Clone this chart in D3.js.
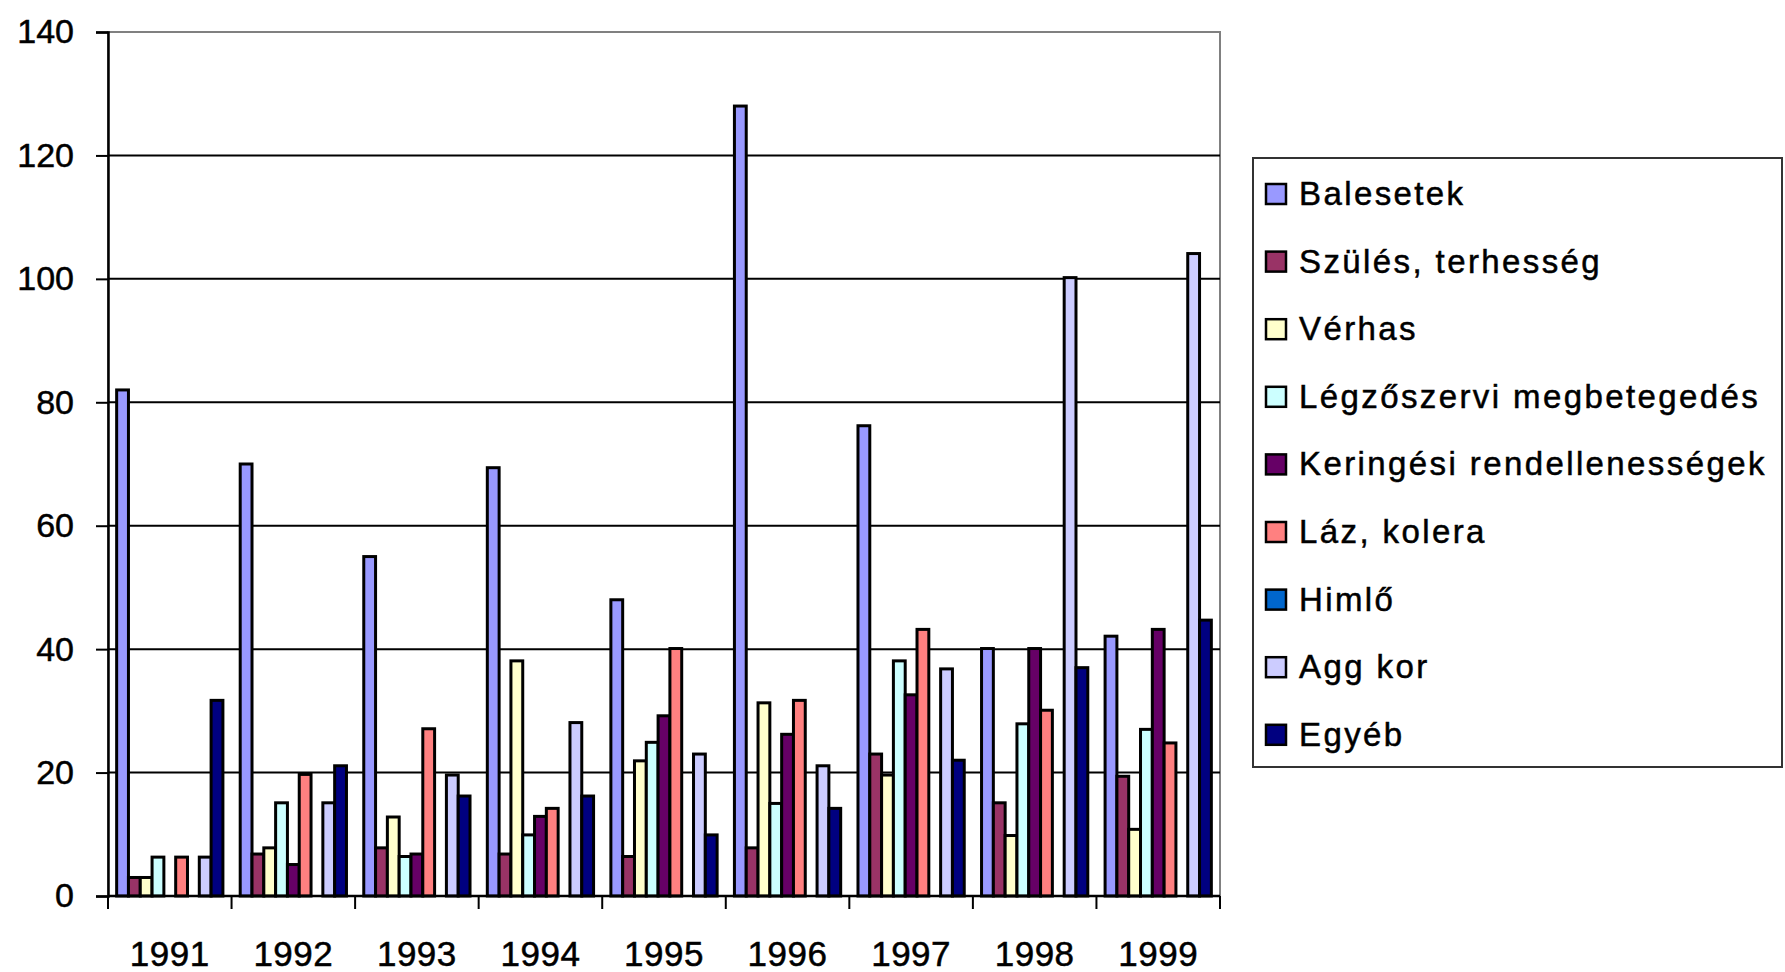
<!DOCTYPE html>
<html>
<head>
<meta charset="utf-8">
<script src="https://cdn.jsdelivr.net/npm/d3@7"></script>
<style>
  html, body { margin: 0; padding: 0; background: #fff; overflow: hidden; }
  svg { display: block; }
  text { font-family: "Liberation Sans", Arial, sans-serif; fill: #000; stroke: #000; stroke-width: 0.5px; }
</style>
</head>
<body>
<div id="chart-area"></div>
<script>
// years on the x axis
const years = ['1991','1992','1993','1994','1995','1996','1997','1998','1999'];

// one array per series, same order as years
const balesetek   = [82, 70, 55, 69.4, 48, 128, 76.2, 40.1, 42.1];
const szules      = [3, 6.8, 7.8, 6.8, 6.4, 7.8, 23, 15.1, 19.4];
const verhas      = [3, 7.8, 12.8, 38.1, 21.9, 31.3, 19.6, 9.8, 10.8];
const legzo       = [6.3, 15.1, 6.4, 9.9, 24.9, 15, 38.1, 27.9, 27];
const keringesi   = [0, 5.1, 6.8, 12.9, 29.2, 26.2, 32.6, 40.1, 43.2];
const laz         = [6.3, 19.7, 27.1, 14.2, 40.1, 31.7, 43.2, 30.1, 24.8];
const himlo       = [0, 0, 0, 0, 0, 0, 0, 0, 0];
const aggKor      = [6.3, 15.1, 19.6, 28.1, 23, 21.1, 36.8, 100.2, 104.1];
const egyeb       = [31.7, 21.1, 16.2, 16.2, 9.9, 14.2, 22, 37, 44.7];

const seriesNames = ['Balesetek','Szülés, terhesség','Vérhas','Légzőszervi megbetegedés',
                     'Keringési rendellenességek','Láz, kolera','Himlő','Agg kor','Egyéb'];
const seriesValues = [balesetek, szules, verhas, legzo, keringesi, laz, himlo, aggKor, egyeb];
const seriesColors = ['#9999FF','#993366','#FFFFCC','#CCFFFF','#660066','#FF8080','#0066CC','#CCCCFF','#000080'];

const yTicks = [0, 20, 40, 60, 80, 100, 120, 140];

const width = 1785;
const height = 972;
const margin = {top: 32, right: 565, bottom: 76, left: 108};
const innerWidth = width - margin.left - margin.right;
const innerHeight = height - margin.top - margin.bottom;

const svg = d3.select('#chart-area')
  .append('svg')
  .attr('width', width)
  .attr('height', height);

const g = svg.append('g')
  .attr('transform', `translate(${margin.left},${margin.top})`);

const x0 = d3.scaleBand()
  .domain(years)
  .range([0, innerWidth])
  .paddingInner(0.14)
  .paddingOuter(0.07);

const x1 = d3.scaleBand()
  .domain(seriesNames)
  .range([0, x0.bandwidth()]);

const y = d3.scaleLinear()
  .domain([0, 140])
  .range([innerHeight, 0]);

const color = d3.scaleOrdinal(seriesNames, seriesColors);

// plot frame (grey top / right)
g.append('rect')
  .attr('width', innerWidth)
  .attr('height', innerHeight)
  .attr('fill', 'none')
  .attr('stroke', '#808080')
  .attr('stroke-width', 2);

// gridlines
g.append('g')
  .selectAll('line')
  .data(yTicks.filter(d => d > 0 && d < 140))
  .enter().append('line')
  .attr('x1', 0)
  .attr('x2', innerWidth)
  .attr('y1', d => y(d))
  .attr('y2', d => y(d))
  .attr('stroke', '#000')
  .attr('stroke-width', 2);

// bars
const rows = years.map((yr, i) => ({
  year: yr,
  vals: seriesNames.map((s, j) => ({key: s, value: seriesValues[j][i]}))
}));

g.append('g')
  .selectAll('g')
  .data(rows)
  .enter().append('g')
  .attr('transform', d => `translate(${x0(d.year)},0)`)
  .selectAll('rect')
  .data(d => d.vals.filter(v => v.value > 0))
  .enter().append('rect')
  .attr('x', d => x1(d.key))
  .attr('width', x1.bandwidth())
  .attr('y', d => y(d.value))
  .attr('height', d => innerHeight - y(d.value))
  .attr('fill', d => color(d.key))
  .attr('stroke', '#000')
  .attr('stroke-width', 3);

// y axis
const yAxis = d3.axisLeft(y)
  .tickValues(yTicks)
  .tickSize(12)
  .tickPadding(22);

const yG = g.append('g').call(yAxis);
yG.select('.domain').attr('stroke', '#000').attr('stroke-width', 2.5);
yG.selectAll('.tick line').attr('stroke', '#000').attr('stroke-width', 2);
yG.selectAll('text').attr('font-size', '34px').attr('font-family', '"Liberation Sans", Arial, sans-serif');

// x axis: ticks at category boundaries
const xG = g.append('g')
  .attr('transform', `translate(0,${innerHeight})`);

xG.append('line')
  .attr('x1', 0).attr('x2', innerWidth)
  .attr('stroke', '#000').attr('stroke-width', 2.5);

const step = x0.step();
xG.selectAll('.bound')
  .data(d3.range(years.length + 1))
  .enter().append('line')
  .attr('class', 'bound')
  .attr('x1', i => i * step).attr('x2', i => i * step)
  .attr('y1', 0).attr('y2', 13)
  .attr('stroke', '#000').attr('stroke-width', 2);

xG.selectAll('.lbl')
  .data(years)
  .enter().append('text')
  .attr('class', 'lbl')
  .attr('x', d => x0(d) + x0.bandwidth() / 2)
  .attr('y', 70)
  .attr('text-anchor', 'middle')
  .attr('font-size', '35px')
  .attr('letter-spacing', '0.5px')
  .text(d => d);

// legend
const legend = svg.append('g')
  .attr('transform', 'translate(1253,158)');

legend.append('rect')
  .attr('width', 529)
  .attr('height', 609)
  .attr('fill', '#fff')
  .attr('stroke', '#333')
  .attr('stroke-width', 2);

const items = legend.selectAll('.item')
  .data(seriesNames)
  .enter().append('g')
  .attr('class', 'item')
  .attr('transform', (d, i) => `translate(13,${36 + i * 67.6})`);

items.append('rect')
  .attr('y', -10)
  .attr('width', 20)
  .attr('height', 20)
  .attr('fill', d => color(d))
  .attr('stroke', '#000')
  .attr('stroke-width', 2.5);

items.append('text')
  .attr('x', 33)
  .attr('y', 11)
  .attr('font-size', '33px')
  .attr('letter-spacing', '2.4px')
  .text(d => d);
</script>
</body>
</html>
